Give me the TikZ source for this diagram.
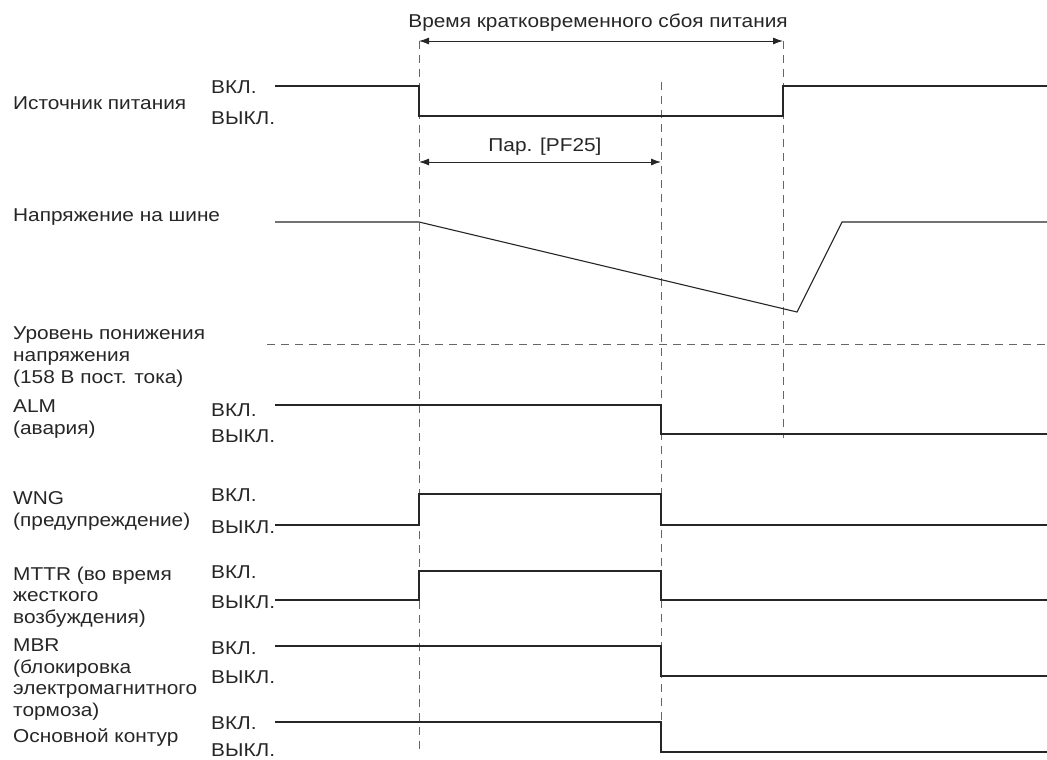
\documentclass[tikz,border=0pt]{standalone}
\usepackage{fontspec}
\setmainfont[FakeStretch=1.12]{Liberation Sans}
\usetikzlibrary{arrows.meta}
\begin{document}
\begin{tikzpicture}[x=1pt,y=-1pt,
  txt/.style={inner sep=0pt,font=\fontsize{18.6}{21.7}\selectfont,text=black!85},
  lbl/.style={txt,anchor=west,align=left},
  sig/.style={line width=1.1pt,black!85},
  guide/.style={line width=0.7pt,black!60,dash pattern=on 8pt off 6pt},
  dim/.style={line width=0.9pt,black!85,{Latex[length=10pt,width=7pt]}-{Latex[length=10pt,width=7pt]}}]
\useasboundingbox (0,0) rectangle (1047,760);
% guide lines
\draw[guide] (419,41) -- (419,750);
\draw[guide] (661,82) -- (661,750);
\draw[guide] (783,41) -- (783,438);
\draw[guide] (267,344) -- (1047,344);
% dimension arrows
\coordinate (a1) at (419,41); \coordinate (a2) at (783,41);
\coordinate (b1) at (419,162); \coordinate (b2) at (661,162);
\draw[dim] (a1) -- (a2);
\draw[dim] (b1) -- (b2);
\node[txt] (tbreak) at (598,23) {Время кратковременного сбоя питания};
\node[txt] (tpf) at (545,147) {Пар. [PF25]};
% signal names
\node[lbl] (nps) at (13,103) {Источник питания};
\node[lbl] (nbus) at (13,217) {Напряжение на шине};
\node[lbl] (nuv) at (13,357) {Уровень понижения\\напряжения\\(158 В пост. тока)};
\node[lbl] (nalm) at (13,419) {ALM\\(авария)};
\node[lbl] (nwng) at (13,511) {WNG\\(предупреждение)};
\node[lbl] (nmttr) at (13,597) {MTTR (во время\\жесткого\\возбуждения)};
\node[lbl] (nmbr) at (13,679.5) {MBR\\(блокировка\\электромагнитного\\тормоза)};
\node[lbl] (nmain) at (13,738) {Основной контур};
% on/off labels
\foreach \n/\yon/\yoff in {ps/87/118, alm/410/436, wng/495/527, mttr/572/602, mbr/648/677, main/723/750}{
  \node[lbl] (on\n) at (211,\yon) {ВКЛ.};
  \node[lbl] (off\n) at (211,\yoff) {ВЫКЛ.};
}
% waveforms
\draw[sig] (275,86) -- (419,86) -- (419,116) -- (783,116) -- (783,86) -- (1047,86);
\draw[sig] (275,222) -- (419,222) -- (797,312) -- (842,222) -- (1047,222);
\draw[sig] (275,405) -- (661,405) -- (661,434) -- (1047,434);
\draw[sig] (275,525) -- (419,525) -- (419,494) -- (661,494) -- (661,525) -- (1047,525);
\draw[sig] (275,600) -- (419,600) -- (419,571) -- (661,571) -- (661,600) -- (1047,600);
\draw[sig] (275,646) -- (661,646) -- (661,676) -- (1047,676);
\draw[sig] (275,722) -- (661,722) -- (661,752) -- (1047,752);
\end{tikzpicture}
\end{document}
